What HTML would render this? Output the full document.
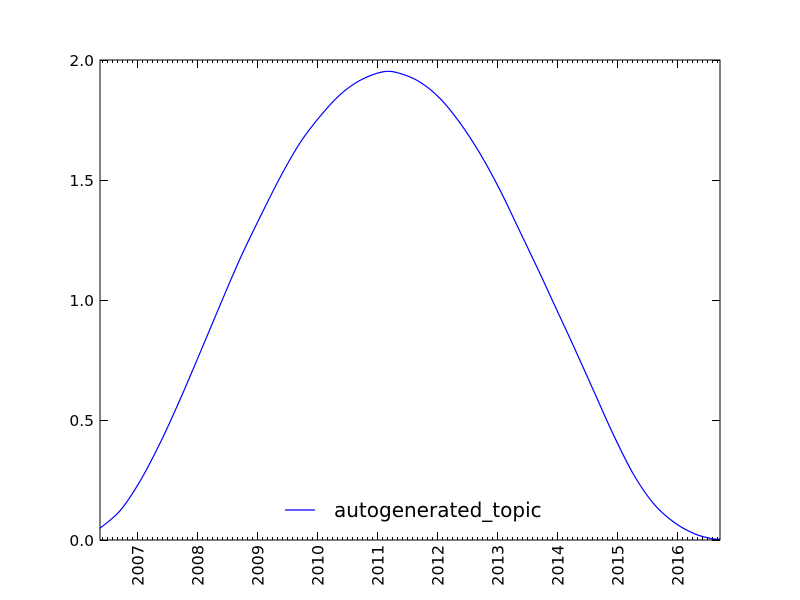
<!DOCTYPE html>
<html><head><meta charset="utf-8"><style>
html,body{margin:0;padding:0;background:#fff;}
svg{display:block;font-family:"DejaVu Sans","Liberation Sans",sans-serif;}
</style></head><body>
<svg id="chart" width="800" height="600">
<rect x="0" y="0" width="800" height="600" fill="#fff"/>
<g id="ticks"></g>
<path id="series" fill="none" stroke="#0000ff" stroke-width="1.2"/>
<rect x="100" y="60" width="620" height="480" fill="none" stroke="#000" stroke-width="1"/>
<g>
<line x1="285" y1="510" x2="315" y2="510" stroke="#0000ff" stroke-width="1.2"/>
<text x="334" y="517" font-size="20">autogenerated_topic</text>
</g>
</svg>
<script>
const years = [2006.378,2006.712,2007.045,2007.378,2007.712,2008.045,2008.407,2008.712,2009.045,2009.378,2009.712,2010.045,2010.378,2010.712,2011.1,2011.378,2011.712,2012.045,2012.378,2012.712,2013.045,2013.378,2013.712,2013.933,2014.267,2014.6,2014.933,2015.267,2015.6,2015.933,2016.267,2016.545,2016.712];
const values = [0.049,0.122,0.245,0.403,0.585,0.78,0.995,1.172,1.345,1.51,1.655,1.765,1.855,1.915,1.951,1.944,1.908,1.84,1.738,1.61,1.458,1.285,1.11,0.99,0.81,0.625,0.44,0.275,0.153,0.076,0.028,0.007,0.003];
const xTickLabels = ["2007","2008","2009","2010","2011","2012","2013","2014","2015","2016"];
const yTickValues = [0,0.5,1,1.5,2];
const yTickLabels = ["0.0","0.5","1.0","1.5","2.0"];

const X0=100,X1=720,Y0=540,Y1=60, dMin=2006.378, dMax=2016.712, vMin=0, vMax=2;
const xs = d => X0 + (d-dMin)/(dMax-dMin)*(X1-X0);
const ys = v => Y0 - (v-vMin)/(vMax-vMin)*(Y0-Y1);
const NS="http://www.w3.org/2000/svg";
const g=document.getElementById('ticks');
function ln(x1,y1,x2,y2){const l=document.createElementNS(NS,'line');l.setAttribute('x1',x1);l.setAttribute('y1',y1);l.setAttribute('x2',x2);l.setAttribute('y2',y2);l.setAttribute('stroke','#000');l.setAttribute('stroke-width','1');g.appendChild(l);return l;}
for(let y=2006;y<=2017;y++){for(let m=0;m<12;m++){const d=y+m/12;if(d<dMin||d>dMax||m===0)continue;const x=Math.round(xs(d))+0.5;
const a=ln(x,540,x,537);
const b=ln(x,60,x,63);}}
xTickLabels.forEach(lab=>{const x=Math.round(xs(+lab))+0.5;
const a=ln(x,540,x,532);
const b=ln(x,60,x,68);
const t=document.createElementNS(NS,'text');t.textContent=lab;t.setAttribute('font-size','16');t.setAttribute('text-anchor','end');
t.setAttribute('transform',`translate(${x+6},545) rotate(-90)`);


g.appendChild(t);});
yTickValues.forEach((v,i)=>{const y=Math.round(ys(v))+0.5;
const a=ln(100,y,108,y);
const b=ln(712,y,720,y);
const t=document.createElementNS(NS,'text');t.textContent=yTickLabels[i];t.setAttribute('font-size','15.5');t.setAttribute('text-anchor','end');
t.setAttribute('x','94');t.setAttribute('y',y+5.5);


g.appendChild(t);});
const P=years.map((d,i)=>[xs(d),ys(values[i])]);
let dstr=`M${P[0][0]},${P[0][1]}`;
for(let i=0;i<P.length-1;i++){const p0=P[Math.max(0,i-1)],p1=P[i],p2=P[i+1],p3=P[Math.min(P.length-1,i+2)];
const c1=[p1[0]+(p2[0]-p0[0])/6,p1[1]+(p2[1]-p0[1])/6],c2=[p2[0]-(p3[0]-p1[0])/6,p2[1]-(p3[1]-p1[1])/6];
dstr+=` C${c1[0]},${c1[1]} ${c2[0]},${c2[1]} ${p2[0]},${p2[1]}`;}
document.getElementById('series').setAttribute('d',dstr);
</script>
</body></html>
